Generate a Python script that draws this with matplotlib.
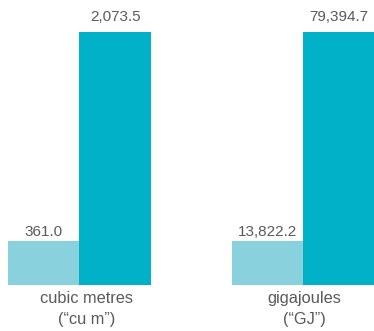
import matplotlib
matplotlib.use("Agg")
import matplotlib.pyplot as plt

categories = ["cubic metres\n(\u201ccu m\u201d)", "gigajoules\n(\u201cGJ\u201d)"]
series_a = [361.0, 13822.2]      # lighter bars
series_b = [2073.5, 79394.7]     # darker bars
labels_a = ["361.0", "13,822.2"]
labels_b = ["2,073.5", "79,394.7"]

color_a = "#88D1DD"
color_b = "#00B1C7"
text_color = "#5a5a5a"
plt.rcParams['font.family'] = ['Liberation Sans', 'DejaVu Sans']

fig = plt.figure(figsize=(3.74, 3.31), dpi=100)
H = 331.0
W = 374.0
bottom_px, top_px = 285, 32
axes_px = [(8, 151), (232, 374)]
label_x_frac = [0.552, 0.507]

for i in range(2):
    x0, x1 = axes_px[i]
    ax = fig.add_axes([x0 / W, (H - bottom_px) / H, (x1 - x0) / W, (bottom_px - top_px) / H])
    ax.bar([0], [series_a[i]], width=1.0, color=color_a, align='center')
    ax.bar([1], [series_b[i]], width=1.0, color=color_b, align='center')
    ax.set_xlim(-0.5, 1.5)
    ax.set_ylim(0, max(series_a[i], series_b[i]))
    ax.axis('off')
    ax.annotate(labels_a[i], (0, series_a[i]), xytext=(0, 1.5), textcoords='offset points',
                ha='center', va='bottom', fontsize=11, color=text_color,
                annotation_clip=False)
    ax.annotate(labels_b[i], (1, series_b[i]), xytext=(0, 6), textcoords='offset points',
                ha='center', va='bottom', fontsize=11, color=text_color,
                annotation_clip=False)
    ax.text(label_x_frac[i], -0.025, categories[i], transform=ax.transAxes,
            ha='center', va='top', fontsize=11.8, color=text_color,
            linespacing=1.45)

fig.savefig("out.png", dpi=100)
